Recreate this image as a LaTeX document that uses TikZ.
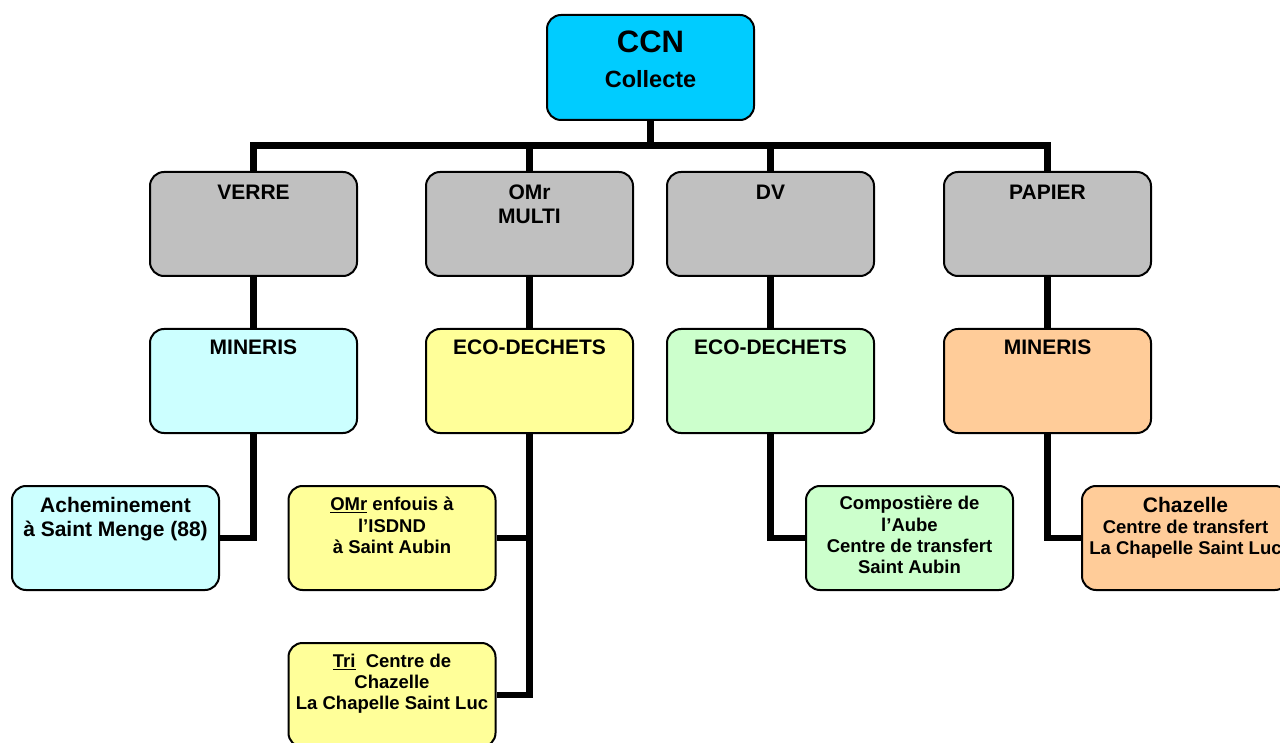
\documentclass[tikz,border=0pt]{standalone}
\usepackage{fontspec}
\setmainfont{Liberation Sans}
\definecolor{ccncol}{HTML}{00CCFF}
\definecolor{graycol}{HTML}{C0C0C0}
\definecolor{cyancol}{HTML}{CCFFFF}
\definecolor{yellowcol}{HTML}{FFFF99}
\definecolor{greencol}{HTML}{CCFFCC}
\definecolor{orangecol}{HTML}{FFCC99}
\begin{document}
\begin{tikzpicture}[x=1pt,y=-1pt,
  box/.style={draw=black, line width=2pt, rounded corners=14pt, minimum width=207pt, minimum height=104pt, inner sep=0pt},
  conn/.style={line width=6.5pt, line cap=butt},
  bigtxt/.style={anchor=north, align=center, inner sep=0pt, font=\bfseries\fontsize{21}{24}\selectfont},
  smalltxt/.style={anchor=north, align=center, inner sep=0pt, font=\bfseries\fontsize{18.5}{21}\selectfont}]
\useasboundingbox (0,0) rectangle (1280,743);
\clip (0,0) rectangle (1280,743);
% boxes
\node[box, fill=ccncol, minimum height=105pt] (ccn) at (650.5,67.5) {};
\node[box, fill=graycol] (verre) at (253.5,224) {};
\node[box, fill=graycol] (omr) at (529.5,224) {};
\node[box, fill=graycol] (dv) at (770.5,224) {};
\node[box, fill=graycol] (papier) at (1047.5,224) {};
\node[box, fill=cyancol] (min1) at (253.5,381) {};
\node[box, fill=yellowcol] (eco1) at (529.5,381) {};
\node[box, fill=greencol] (eco2) at (770.5,381) {};
\node[box, fill=orangecol] (min2) at (1047.5,381) {};
\node[box, fill=cyancol] (ach) at (115.5,538) {};
\node[box, fill=yellowcol] (omrenf) at (392,538) {};
\node[box, fill=yellowcol] (tri) at (392,695) {};
\node[box, fill=greencol] (comp) at (909.5,538) {};
\node[box, fill=orangecol] (chaz) at (1185.5,538) {};
% connectors
\coordinate (bus) at (0,145.5);
\draw[conn] (ccn.south) -- (ccn.south |- bus);
\draw[conn] (verre.north) -- (verre.north |- bus) -- (papier.north |- bus) -- (papier.north);
\draw[conn] (omr.north) -- (omr.north |- bus);
\draw[conn] (dv.north) -- (dv.north |- bus);
\draw[conn] (verre.south) -- (min1.north);
\draw[conn] (omr.south) -- (eco1.north);
\draw[conn] (dv.south) -- (eco2.north);
\draw[conn] (papier.south) -- (min2.north);
\draw[conn] (min1.south) |- (ach.east);
\draw[conn] (eco1.south) |- (tri.east);
\draw[conn] (eco1.south |- omrenf.east) -- (omrenf.east);
\draw[conn] (eco2.south) |- (comp.west);
\draw[conn] (min2.south) |- (chaz.west);
% texts
\node[anchor=base, inner sep=0pt, font=\bfseries\fontsize{31}{36}\selectfont] (tccn) at (650.5,53) {CCN};
\node[anchor=base, inner sep=0pt, font=\bfseries\fontsize{23.5}{28}\selectfont] (tcol) at (650.5,88) {Collecte};
\node[bigtxt] (tverre) at (253.5,185) {VERRE};
\node[bigtxt] (tomr) at (529.5,185) {OMr\\MULTI};
\node[bigtxt] (tdv) at (770.5,185) {DV};
\node[bigtxt] (tpapier) at (1047.5,185) {PAPIER};
\node[bigtxt] (tmin1) at (253.5,340) {MINERIS};
\node[bigtxt] (teco1) at (529.5,340) {ECO-DECHETS};
\node[bigtxt] (teco2) at (770.5,340) {ECO-DECHETS};
\node[bigtxt] (tmin2) at (1047.5,340) {MINERIS};
\node[bigtxt, font=\bfseries\fontsize{21}{24.5}\selectfont] (tach) at (115.5,497) {Acheminement\\à Saint Menge (88)};
\node[smalltxt, font=\bfseries\fontsize{18.5}{21.5}\selectfont] (tomrenf) at (392,497) {\underline{OMr} enfouis à\\l’ISDND\\à Saint Aubin};
\node[smalltxt] (ttri) at (392,654) {\underline{Tri}\ \ Centre de\\Chazelle\\La Chapelle Saint Luc};
\node[smalltxt, font=\bfseries\fontsize{18.5}{21.3}\selectfont] (tcomp) at (909.5,496) {Compostière de\\l’Aube\\Centre de transfert\\Saint Aubin};
\node[smalltxt] (tchaz) at (1185.5,497) {{\fontsize{21}{21}\selectfont Chazelle}\\Centre de transfert\\La Chapelle Saint Luc};
\end{tikzpicture}
\end{document}
